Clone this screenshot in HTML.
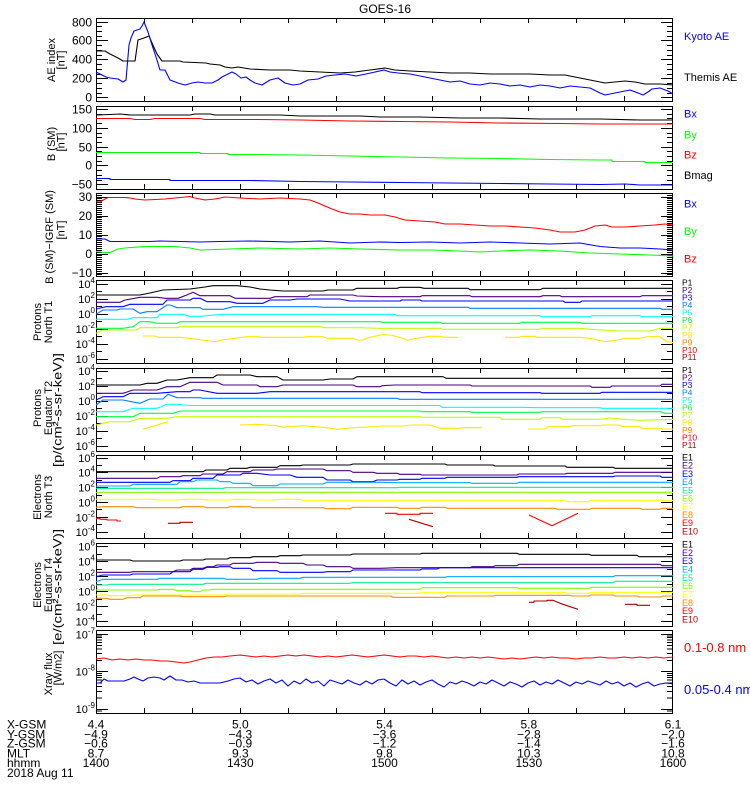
<!DOCTYPE html>
<html><head><meta charset="utf-8"><style>
html,body{margin:0;padding:0;background:#fff}
svg{display:block}
text{font-family:"Liberation Sans",sans-serif;fill:#000}
</style></head><body>
<svg width="750" height="800" viewBox="0 0 750 800" xmlns="http://www.w3.org/2000/svg">
<rect width="750" height="800" fill="#fff"/>
<defs>
<path id="xt" d="M96.5 0v5M144.5 0v5M192.5 0v5M240.5 0v5M288.5 0v5M336.5 0v5M384.5 0v5M432.5 0v5M480.5 0v5M528.5 0v5M576.5 0v5M624.5 0v5M672.5 0v5M96.5 83v-5M144.5 83v-5M192.5 83v-5M240.5 83v-5M288.5 83v-5M336.5 83v-5M384.5 83v-5M432.5 83v-5M480.5 83v-5M528.5 83v-5M576.5 83v-5M624.5 83v-5M672.5 83v-5" stroke="#000" fill="none" shape-rendering="crispEdges"/>
<path id="yt" stroke="#000" fill="none" shape-rendering="crispEdges" d="
M96 97.5h12M96 78.5h12M96 59.5h12M96 40.5h12M96 22.5h12M96 93.5h6M96 88.5h6M96 83.5h6M96 74.5h6M96 69.5h6M96 64.5h6M96 55.5h6M96 50.5h6M96 45.5h6M96 36.5h6M96 31.5h6M96 26.5h6
M96 109.5h12M96 128.5h12M96 147.5h12M96 165.5h12M96 184.5h12M96 180.5h6M96 175.5h6M96 170.5h6M96 161.5h6M96 156.5h6M96 151.5h6M96 142.5h6M96 137.5h6M96 133.5h6M96 123.5h6M96 118.5h6M96 114.5h6
M96 197.5h12M96 216.5h12M96 235.5h12M96 254.5h12M96 273.5h12
M96 195.5h6M96 198.5h6M96 200.5h6M96 202.5h6M96 204.5h6M96 206.5h6M96 208.5h6M96 210.5h6M96 212.5h6M96 214.5h6M96 217.5h6M96 219.5h6M96 221.5h6M96 223.5h6M96 225.5h6M96 227.5h6M96 229.5h6M96 231.5h6M96 233.5h6M96 236.5h6M96 238.5h6M96 240.5h6M96 242.5h6M96 244.5h6M96 246.5h6M96 248.5h6M96 250.5h6M96 252.5h6M96 255.5h6M96 257.5h6M96 259.5h6M96 261.5h6M96 263.5h6M96 265.5h6M96 267.5h6M96 269.5h6M96 271.5h6M96 274.5h6
M96 284.5h12M96 299.5h12M96 314.5h12M96 329.5h12M96 344.5h12M96 359.5h12M96 291.5h6M96 306.5h6M96 321.5h6M96 336.5h6M96 351.5h6
M96 371.5h12M96 386.5h12M96 401.5h12M96 416.5h12M96 431.5h12M96 446.5h12M96 378.5h6M96 393.5h6M96 408.5h6M96 423.5h6M96 438.5h6
M96 458.5h12M96 472.5h12M96 487.5h12M96 502.5h12M96 517.5h12M96 532.5h12M96 465.5h6M96 480.5h6M96 495.5h6M96 509.5h6M96 524.5h6
M96 546.5h12M96 561.5h12M96 576.5h12M96 591.5h12M96 606.5h12M96 621.5h12M96 554.5h6M96 569.5h6M96 584.5h6M96 599.5h6M96 614.5h6
M96 634.5h12M96 671.5h12M96 709.5h12M96 635.8h6M96 637.7h6M96 639.9h6M96 642.4h6M96 645.4h6M96 649h6M96 653.7h6M96 660.4h6M96 673.4h6M96 675.3h6M96 677.5h6M96 680h6M96 683h6M96 686.6h6M96 691.3h6M96 698h6M96 711h6"/>
</defs>

<!-- frames -->
<g fill="none" stroke="#000" shape-rendering="crispEdges">
<rect x="96.5" y="18.5" width="576" height="83"/>
<rect x="96.5" y="106.5" width="576" height="83"/>
<rect x="96.5" y="193.5" width="576" height="83"/>
<rect x="96.5" y="280.5" width="576" height="83"/>
<rect x="96.5" y="368.5" width="576" height="83"/>
<rect x="96.5" y="455.5" width="576" height="83"/>
<rect x="96.5" y="543.5" width="576" height="83"/>
<rect x="96.5" y="630.5" width="576" height="83"/>
</g>
<use href="#xt" y="18"/><use href="#xt" y="106"/><use href="#xt" y="193"/><use href="#xt" y="280"/>
<use href="#xt" y="368"/><use href="#xt" y="455"/><use href="#xt" y="543"/><use href="#xt" y="630"/>
<use href="#yt"/>
<use href="#yt" transform="matrix(-1 0 0 1 769 0)"/>

<!-- title -->
<text x="385" y="13" font-size="12" text-anchor="middle">GOES-16</text>

<!-- y tick labels -->
<g font-size="12" text-anchor="end">
<text x="92" y="101.5">0</text><text x="92" y="82.5">200</text><text x="92" y="63.5">400</text><text x="92" y="44.5">600</text><text x="92" y="26.5">800</text>
<text x="92" y="113.5">150</text><text x="92" y="132.5">100</text><text x="92" y="151.5">50</text><text x="92" y="169.5">0</text><text x="92" y="188.5">−50</text>
<text x="92" y="201">30</text><text x="92" y="220">20</text><text x="92" y="239">10</text><text x="92" y="258">0</text><text x="92" y="277">−10</text>
</g>
<g font-size="11" text-anchor="end">
<text x="95" y="288">10<tspan dy="-5" font-size="8">4</tspan></text>
<text x="95" y="303">10<tspan dy="-5" font-size="8">2</tspan></text>
<text x="95" y="318">10<tspan dy="-5" font-size="8">0</tspan></text>
<text x="95" y="333">10<tspan dy="-5" font-size="8">-2</tspan></text>
<text x="95" y="348">10<tspan dy="-5" font-size="8">-4</tspan></text>
<text x="95" y="363">10<tspan dy="-5" font-size="8">-6</tspan></text>

<text x="95" y="375">10<tspan dy="-5" font-size="8">4</tspan></text>
<text x="95" y="390">10<tspan dy="-5" font-size="8">2</tspan></text>
<text x="95" y="405">10<tspan dy="-5" font-size="8">0</tspan></text>
<text x="95" y="420">10<tspan dy="-5" font-size="8">-2</tspan></text>
<text x="95" y="435">10<tspan dy="-5" font-size="8">-4</tspan></text>
<text x="95" y="450">10<tspan dy="-5" font-size="8">-6</tspan></text>

<text x="95" y="462">10<tspan dy="-5" font-size="8">6</tspan></text>
<text x="95" y="476.5">10<tspan dy="-5" font-size="8">4</tspan></text>
<text x="95" y="491.5">10<tspan dy="-5" font-size="8">2</tspan></text>
<text x="95" y="506.5">10<tspan dy="-5" font-size="8">0</tspan></text>
<text x="95" y="521.5">10<tspan dy="-5" font-size="8">-2</tspan></text>
<text x="95" y="536">10<tspan dy="-5" font-size="8">-4</tspan></text>

<text x="95" y="550.5">10<tspan dy="-5" font-size="8">6</tspan></text>
<text x="95" y="565.5">10<tspan dy="-5" font-size="8">4</tspan></text>
<text x="95" y="580.5">10<tspan dy="-5" font-size="8">2</tspan></text>
<text x="95" y="595.5">10<tspan dy="-5" font-size="8">0</tspan></text>
<text x="95" y="610.5">10<tspan dy="-5" font-size="8">-2</tspan></text>
<text x="95" y="625.5">10<tspan dy="-5" font-size="8">-4</tspan></text>

<text x="95" y="638.5">10<tspan dy="-5" font-size="8">-7</tspan></text>
<text x="95" y="675.5">10<tspan dy="-5" font-size="8">-8</tspan></text>
<text x="95" y="713">10<tspan dy="-5" font-size="8">-9</tspan></text>
</g>

<!-- y axis titles -->
<g font-size="11" text-anchor="middle">
<text transform="translate(55,60) rotate(-90)">AE index</text>
<text transform="translate(64.5,60) rotate(-90)">[nT]</text>
<text transform="translate(55,144) rotate(-90)">B (SM)</text>
<text transform="translate(64.5,142) rotate(-90)">[nT]</text>
<text transform="translate(53,237) rotate(-90)">B (SM)−IGRF (SM)</text>
<text transform="translate(64.5,230) rotate(-90)">[nT]</text>
<text transform="translate(41,322) rotate(-90)">Protons</text>
<text transform="translate(52,322) rotate(-90)">North T1</text>
<text transform="translate(41,408) rotate(-90)">Protons</text>
<text transform="translate(52,408) rotate(-90)">Equator T2</text>
<text transform="translate(61.5,410) rotate(-90)" font-size="12" textLength="114" lengthAdjust="spacingAndGlyphs">[p/(cm²-s-sr-keV)]</text>
<text transform="translate(41,497) rotate(-90)">Electrons</text>
<text transform="translate(52,497) rotate(-90)">North T3</text>
<text transform="translate(41,585) rotate(-90)">Electrons</text>
<text transform="translate(52,585) rotate(-90)">Equator T4</text>
<text transform="translate(61.5,587) rotate(-90)" font-size="12" textLength="116" lengthAdjust="spacingAndGlyphs">[e/(cm²-s-sr-keV)]</text>
<text transform="translate(52,674) rotate(-90)">Xray flux</text>
<text transform="translate(61.5,668) rotate(-90)">[W/m2]</text>
</g>

<!-- right legends -->
<g font-size="11">
<text x="684" y="40" style="fill:#0000ff">Kyoto AE</text>
<text x="684" y="81">Themis AE</text>
<text x="684" y="117.5" style="fill:#0000ff">Bx</text>
<text x="684" y="138.5" style="fill:#00ff00">By</text>
<text x="684" y="158.5" style="fill:#ff0000">Bz</text>
<text x="684" y="179">Bmag</text>
<text x="684" y="207.5" style="fill:#0000ff">Bx</text>
<text x="684" y="235" style="fill:#00ff00">By</text>
<text x="684" y="262.5" style="fill:#ff0000">Bz</text>
<text x="684" y="652" font-size="13" style="fill:#ff0000">0.1-0.8 nm</text>
<text x="684" y="694" font-size="13" style="fill:#0000ff">0.05-0.4 nm</text>
</g>
<g font-size="8.5">
<text x="682" y="285.7">P1</text>
<text x="682" y="293.2" style="fill:#4b0082">P2</text>
<text x="682" y="300.6" style="fill:#0000ff">P3</text>
<text x="682" y="308.1" style="fill:#0080ff">P4</text>
<text x="682" y="315.5" style="fill:#00ffff">P5</text>
<text x="682" y="323" style="fill:#00ff40">P6</text>
<text x="682" y="330.4" style="fill:#c0ff00">P7</text>
<text x="682" y="337.9" style="fill:#ffe800">P8</text>
<text x="682" y="345.3" style="fill:#ff8000">P9</text>
<text x="682" y="352.8" style="fill:#ff0000">P10</text>
<text x="682" y="360.2" style="fill:#b00000">P11</text>

<text x="682" y="373">P1</text>
<text x="682" y="380.5" style="fill:#4b0082">P2</text>
<text x="682" y="388" style="fill:#0000ff">P3</text>
<text x="682" y="395.5" style="fill:#0080ff">P4</text>
<text x="682" y="403" style="fill:#00ffff">P5</text>
<text x="682" y="410.5" style="fill:#00ff40">P6</text>
<text x="682" y="418" style="fill:#c0ff00">P7</text>
<text x="682" y="425.5" style="fill:#ffe800">P8</text>
<text x="682" y="433" style="fill:#ff8000">P9</text>
<text x="682" y="440.5" style="fill:#ff0000">P10</text>
<text x="682" y="448" style="fill:#b00000">P11</text>
</g>
<g font-size="9">
<text x="682" y="460.5">E1</text>
<text x="682" y="468.7" style="fill:#4b0082">E2</text>
<text x="682" y="476.9" style="fill:#0000ff">E3</text>
<text x="682" y="485.1" style="fill:#00a8ff">E4</text>
<text x="682" y="493.3" style="fill:#00f090">E5</text>
<text x="682" y="501.5" style="fill:#80ff00">E6</text>
<text x="682" y="509.7" style="fill:#ffff00">E7</text>
<text x="682" y="517.9" style="fill:#ff8c00">E8</text>
<text x="682" y="526.1" style="fill:#ff0000">E9</text>
<text x="682" y="534.3" style="fill:#b00000">E10</text>

<text x="682" y="547.5">E1</text>
<text x="682" y="555.8" style="fill:#4b0082">E2</text>
<text x="682" y="564.2" style="fill:#0000ff">E3</text>
<text x="682" y="572.5" style="fill:#00a8ff">E4</text>
<text x="682" y="580.8" style="fill:#00f090">E5</text>
<text x="682" y="589.2" style="fill:#80ff00">E6</text>
<text x="682" y="597.5" style="fill:#ffff00">E7</text>
<text x="682" y="605.8" style="fill:#ff8c00">E8</text>
<text x="682" y="614.2" style="fill:#ff0000">E9</text>
<text x="682" y="622.5" style="fill:#b00000">E10</text>
</g>

<!-- bottom labels -->
<g font-size="12">
<text x="7" y="728.6">X-GSM</text>
<text x="7" y="738.6">Y-GSM</text>
<text x="7" y="747.6">Z-GSM</text>
<text x="7" y="757.6">MLT</text>
<text x="7" y="767">hhmm</text>
<text x="7" y="777">2018 Aug 11</text>
</g>
<g font-size="12" text-anchor="middle">
<text x="96" y="728.6">4.4</text><text x="96" y="738.6">−4.9</text><text x="96" y="747.6">−0.6</text><text x="96" y="757.6">8.7</text><text x="96" y="767">1400</text>
<text x="240.3" y="728.6">5.0</text><text x="240.3" y="738.6">−4.3</text><text x="240.3" y="747.6">−0.9</text><text x="240.3" y="757.6">9.3</text><text x="240.3" y="767">1430</text>
<text x="384.5" y="728.6">5.4</text><text x="384.5" y="738.6">−3.6</text><text x="384.5" y="747.6">−1.2</text><text x="384.5" y="757.6">9.8</text><text x="384.5" y="767">1500</text>
<text x="528.8" y="728.6">5.8</text><text x="528.8" y="738.6">−2.8</text><text x="528.8" y="747.6">−1.4</text><text x="528.8" y="757.6">10.3</text><text x="528.8" y="767">1530</text>
<text x="673" y="728.6">6.1</text><text x="673" y="738.6">−2.0</text><text x="673" y="747.6">−1.6</text><text x="673" y="757.6">10.8</text><text x="673" y="767">1600</text>
</g>

<!-- data -->
<g fill="none" stroke-width="1.1" stroke-linejoin="round">
<!-- AE -->
<polyline stroke="#000" points="96,51 105,51 110,54 118,58 123,61 135,61 138,40 144,38 149,36 152,43 157,54 162,61 180,61 183,62 206,63 210,64 220,65 225,67 232,68 238,67 250,69 270,70 290,70 300,71 320,72 340,73 355,72 370,70 385,68 395,70 410,71 430,72 450,73 470,73 490,74 510,74 530,74 550,75 565,75 575,77 585,79 595,81 605,83 615,82 625,81 635,82 645,84 660,84 673,85"/>
<polyline stroke="#0000ff" points="96,72 100,74 106,77 110,78 118,79 123,82 126,80 129,45 131,38 134,31 140,29 142,26 144,22 148,32 152,45 157,60 160,70 165,70 170,80 178,83 185,85 192,83 198,82 205,83 212,83 218,80 222,77 226,75 232,72 236,74 241,78 246,77 250,80 255,83 262,85 270,80 278,78 285,83 293,85 300,84 308,80 318,79 326,76 335,75 345,74 356,76 366,74 375,72 384,70 390,72 398,73 410,74 420,76 430,78 440,80 450,82 460,81 470,84 480,85 490,83 500,84 510,86 520,85 530,87 540,85 550,86 560,88 570,86 580,87 590,88 600,93 605,95 610,94 615,93 625,91 630,90 638,93 643,95 648,92 652,89 660,88 668,91 673,94"/>
<!-- B SM -->
<polyline stroke="#000" points="96,115 110,114.5 120,114 130,115 190,115 195,114 210,114 215,115 280,115 300,116 360,116 380,117 420,117 460,118 500,118 540,119 600,119 640,120 673,120"/>
<polyline stroke="#ff0000" points="96,118.5 130,118.5 135,119.5 150,119.5 155,118.5 200,118.5 205,119.5 260,119.5 300,120 350,121 400,121.5 450,122 500,123 560,123.5 600,124 673,124"/>
<polyline stroke="#00ff00" points="96,152.5 200,152.5 200,153.5 228,153.5 228,154.5 260,154.5 300,155 350,156 400,157 450,158 500,158.5 550,159.5 600,160 612,160 612,161.5 645,161.5 645,162.5 673,162.5"/>
<polyline stroke="#0000ff" points="96,178.5 110,178.5 110,179.5 170,179.5 170,180.5 250,180.5 300,181.5 350,182 400,182.5 450,183 500,183.5 550,184 600,184.5 625,184 640,185 673,185"/>
<!-- B-IGRF -->
<polyline stroke="#ff0000" points="96,201.5 100,202 105,199 108,197.5 125,197.5 130,198 135,199 145,200 165,199 175,198 190,196.5 195,198 205,200 215,199 225,197 240,198 260,199 280,198 300,199 310,200 318,203 325,206 332,209 340,212 350,214 360,214 370,215 385,215 395,217 405,220 420,221 435,222 445,224 460,224 475,225 490,226 505,226 520,227 535,228 550,230 560,232 575,232 585,230 595,226 605,225 612,227 625,227 640,226 655,225 665,224 673,225"/>
<polyline stroke="#0000ff" points="96,239 105,239 110,241.5 150,241.5 160,241 180,241.5 200,242 220,241.5 250,241 290,242 320,241 350,243 380,242 400,242.5 430,242 460,243 490,242 520,243 550,244 580,243 600,246.5 620,248 640,248 660,249 673,250"/>
<polyline stroke="#00ff00" points="96,251.5 105,252.5 110,252.5 118,249 125,248 145,246.5 175,246.5 190,248 200,250 230,249 260,248 300,249 330,248 360,249 400,250 430,250 460,251 480,252 500,251 530,250 560,251 590,253 620,254 650,255 673,256"/>
<!-- Protons T1 -->
<polyline stroke="#000" points="96,295 140,295 150,293 163,290 190,289 205,287 213,285.7 237,285.7 250,287 260,289 270,290 283,291 323,291 328,290 353,290 357,288.3 397,288.3 400,287.3 420,287.3 424,288.3 468,288.3 470,289.7 540,289.7 543,288.3 673,288.3"/>
<polyline stroke="#4b0082" points="96,302.3 120,302.3 125,300 140,297.3 157,297.3 165,298.3 178,298.3 185,295.7 193,292.3 200,295.7 230,295.7 235,298.3 270,298.3 275,296.7 307,296.7 310,295 353,295 357,296 380,296.7 420,296.7 422,295.7 470,295.7 472,296.7 540,296.7 543,295.7 560,295.7 562,296.7 640,296.7 642,295.7 673,295.7"/>
<polyline stroke="#0000ff" points="96,309 106,306.7 123,306.7 130,304.3 163,304.3 167,300 190,300 193,298.3 200,298.3 207,301.7 230,301.7 237,303.3 263,303.3 270,300 290,300 297,299 340,299 350,301 400,301 402,300 420,300 422,301 563,301 565,302.3 580,302.3 582,301 673,301"/>
<polyline stroke="#0080ff" points="96,314.3 103,310 117,310 120,309 133,309 140,313.3 147,311.7 157,311.7 167,305 170,305 177,307.7 200,307.7 203,309.3 223,309.3 233,306.7 317,306.7 323,307.3 468,307.3 470,308.3 660,308.3 662,309.3 673,309.3"/>
<polyline stroke="#00ffff" points="96,319.3 127,319.3 133,317.7 157,317.7 160,314.3 183,314.3 190,316.3 200,316.3 223,314.3 395,314.3 397,315.7 540,315.7 542,316.7 590,316.7 592,315.7 640,315.7 642,316.7 673,316.7"/>
<polyline stroke="#00ff40" points="96,328.3 123,328.3 133,326.7 140,321.7 150,321.7 157,323.3 177,323.3 180,321.7 380,321.7 382,322.3 440,322.3 442,323.3 520,323.3 522,322.3 580,322.3 582,323.3 673,323.3"/>
<polyline stroke="#c0ff00" points="96,333.3 103,330 137,330 140,327.7 177,327.7 180,326.7 320,326.7 325,327.7 360,327.7 380,328.3 440,328.3 442,329.3 540,329.3 542,328.3 580,328.3 590,329.3 620,331 650,331 660,328.3 673,328.3"/>
<polyline stroke="#ffe800" points="143,336 155,336 158,337.3 180,337.3 190,338.3 205,340.5 215,341.7 225,339.5 235,338.3 247,336.7 257,336.7 263,337.3 303,337.3 307,336.7 323,336.7 327,338.3 353,338.3 357,340 363,340 367,338 373,336.7 383,334.5 390,335 397,336.5 403,338.3 408,340.3 412,339 420,337.7 430,336.3 440,336.3 445,337.3 458,337.3"/>
<polyline stroke="#ffe800" points="505,337.3 520,337.3 522,336.3 535,336.3 537,337.3 580,337.3 590,338.3 600,340.7 605,341.7 613,340.7 620,339.5 625,338.3 640,338.3 648,336.7 660,336.7 665,340.7 673,342.7"/>
<!-- Protons T2 -->
<polyline stroke="#000" points="96,385 140,385 147,383.3 157,383.3 167,380 177,380 190,377.7 213,377.7 217,375 250,375 257,376.7 277,376.7 283,380 323,380 330,379 353,379 357,376.7 443,376.7 446,378.3 673,378.3"/>
<polyline stroke="#4b0082" points="96,393.3 123,393.3 133,390 157,390 167,386.7 180,386.7 190,382.3 217,382.3 223,385 257,385 260,386.7 277,386.7 283,385 353,385 357,386.7 380,386.7 382,385.7 395,385 470,385 472,386 590,386 592,387.3 610,387.3 612,386 660,386 662,384.3 673,384.3"/>
<polyline stroke="#0000ff" points="96,400 103,396.7 123,396.7 130,393.3 157,393.3 177,391.7 190,391.7 193,390 200,390 217,393.3 257,393.3 270,391.7 420,391.7 422,392.7 540,392.7 542,393.3 600,393.3 602,392.3 673,392.3"/>
<polyline stroke="#0080ff" points="96,405 103,400 123,400 140,403.3 150,399 163,399 168,394.3 177,397.7 200,397.7 203,398.3 397,398.3 400,399.3 673,399.3"/>
<polyline stroke="#00ffff" points="96,411.7 123,411.7 133,408.3 157,408.3 167,404.3 177,404.3 190,405.5 440,405.5 442,407.3 520,407.3 540,407.7 600,407.7 602,408.3 673,408.3"/>
<polyline stroke="#00ff40" points="96,416.7 133,416.7 140,413.3 173,413.3 180,411 420,411 422,411.7 470,411.7 472,412.3 540,412.3 542,411.7 660,411.7 665,413.3 673,413.3"/>
<polyline stroke="#c0ff00" points="96,425 110,421.7 130,421.7 140,418.3 167,418.3 177,416.7 420,416.7 422,417.3 500,417.3 502,419.3 540,419.3 542,417.7 560,417.7 562,419.3 600,419.3 610,418 625,419.3 640,420.3 673,419.3"/>
<polyline stroke="#ffe800" points="143,429.3 168,421.7"/>
<polyline stroke="#ffe800" points="240,425 257,424.3 277,425.7 283,427.3 303,425.7 323,427.3 337,429.3 353,427.7 373,426.7 380,426 405,426 410,425 430,425 440,428.3 460,428.3 462,427.7 482,427.7"/>
<polyline stroke="#ffe800" points="528,429 545,429 548,426.7 570,426.7 572,425.7 600,425.7 602,425 620,425 622,426.7 640,426.7 642,428.3 660,428.3 662,429 673,429"/>
<!-- Electrons T3 -->
<polyline stroke="#000" points="96,471.7 203,471.7 206,470 227,470 230,468.3 247,468.3 250,467.3 277,467.3 280,465.7 300,465.7 303,465 350,465 353,464 445,464 447,465 493,465 495,466 565,466 567,467.3 613,467.3 615,468.3 673,468.3"/>
<polyline stroke="#4b0082" points="96,478.3 157,478.3 160,476.7 180,476.7 183,475.7 200,475.7 203,474 223,474 227,471.7 250,471.7 253,470 273,470 277,469 323,469 327,470.7 350,470.7 353,472.3 373,472.3 377,473.3 397,473.3 400,474.3 420,474.3 422,475 517,475 519,474 565,474 567,473.3 613,473.3 615,472.3 673,472.3"/>
<polyline stroke="#0000ff" points="96,482.3 170,482.3 173,480.7 190,480.7 193,478.3 213,478.3 217,475 240,475 243,473.3 257,473.3 270,475 290,475 297,477.3 323,477.3 327,480 350,480 353,481.7 373,481.7 377,480 397,480 400,479.3 420,479.3 422,478.3 445,478.3 447,477.3 517,477.3 519,476.7 613,476.7 615,476 660,476 662,477.3 673,477.3"/>
<polyline stroke="#00a8ff" points="96,486 130,486 133,484.3 177,484.3 180,481.7 193,481.7 197,480 217,480 220,481.7 230,481.7 233,483.3 250,483.3 253,485.7 277,485.7 280,484 323,484 327,482.3 380,482.3 397,482.7 470,482.7 472,483.3 517,483.3 519,482.3 673,482.3"/>
<polyline stroke="#00f090" points="96,488.3 223,488.3 226,487.7 397,487.7 399,487.3 673,487.3"/>
<polyline stroke="#80ff00" points="96,492.3 673,492.3"/>
<polyline stroke="#ffff00" points="96,499.3 155,499.3 157,500 180,500 183,499.3 203,499.3 205,500 230,500 233,499.3 253,499.3 256,500 275,500 278,499.3 300,499.3 303,500.3 565,500.3 567,501.7 589,501.7 591,500.3 673,500.3"/>
<polyline stroke="#ff8c00" points="96,507.3 103,506.7 133,506.7 137,507.7 180,507.7 183,506.7 203,506.7 207,507.7 227,507.7 230,506.7 250,506.7 253,507.7 323,507.7 327,508.7 350,508.7 353,507.3 397,507.3 399,508.3 420,508.3 422,507.3 445,507.3 447,508.3 555,508.3 557,509.3 590,509.3 592,508.3 640,508.3 642,509.3 660,509.3 662,508.3 673,508.3"/>
<polyline stroke="#ff0000" points="96,518.3 100,518.3 100,519.3 107,519.3 107,520 117,520 117,521 121,521"/>
<polyline stroke="#ff0000" points="385,513.3 397,513.3 397,514.3 420,514.3 420,513.3 433,513.3"/>
<polyline stroke="#ff0000" points="529,515 552,525.7 578,513.3"/>
<polyline stroke="#b00000" points="168,523.3 180,523.3 180,522.3 193,522.3"/>
<polyline stroke="#b00000" points="409,519.3 433,526.7"/>
<!-- Electrons T4 -->
<polyline stroke="#000" points="96,560 130,560 133,561 180,561 183,560 203,560 206,559 227,559 230,557.7 250,557.7 253,556.7 277,556.7 280,555.7 300,555.7 303,555 350,555 353,554 420,554 422,553.3 517,553.3 519,554.3 589,554.3 591,555.3 637,555.3 639,556.7 673,556.7"/>
<polyline stroke="#4b0082" points="96,572.3 130,572.3 133,571.7 173,571.7 177,570 190,570 193,568.3 203,568.3 207,566.7 213,566.7 217,565 230,565 233,563.3 253,563.3 257,562.3 277,562.3 280,563.3 303,563.3 307,565 323,565 327,566.7 350,566.7 353,568.3 380,568.3 397,567.7 470,567.7 472,566.7 493,566.7 495,565.7 517,565.7 519,564.3 660,564.3 662,565.7 673,565.7"/>
<polyline stroke="#0000ff" points="96,576.7 103,575 130,575 133,574 170,574 173,571.7 190,571.7 193,569.3 203,569.3 207,567.3 217,567.3 220,566.7 230,566.7 233,568.3 250,568.3 253,570.7 277,570.7 280,572.3 323,572.3 327,571.7 350,571.7 353,570 420,570 422,569 437,569 440,567.7 673,567.7"/>
<polyline stroke="#00a8ff" points="96,581.7 103,579.3 157,579.3 160,578.3 223,578.3 227,579.3 257,579.3 260,578.3 300,578.3 303,577.3 445,577.3 447,576.7 613,576.7 615,575.7 673,575.7"/>
<polyline stroke="#00f090" points="96,585 107,585 110,584.3 203,584.3 206,583.3 350,583.3 353,582.7 613,582.7 615,581.3 673,581.3"/>
<polyline stroke="#80ff00" points="96,590 157,590 160,589.3 173,589.3 177,590.7 190,590.7 193,591.7 200,591.7 203,590 210,590 213,589.3 420,589.3 422,587.7 517,587.7 519,588.3 589,588.3 591,587.3 673,587.3"/>
<polyline stroke="#ffff00" points="96,595 107,595 110,595.7 130,595.7 133,595 223,595 227,594 300,594 303,593.3 420,593.3 422,592.3 565,592.3 567,593.3 589,593.3 591,592.3 673,592.3"/>
<polyline stroke="#ff8c00" points="96,598.3 107,598.3 110,599.3 123,599.3 127,597.7 140,597.7 143,596 180,596 183,596.7 223,596.7 227,596 391,596 393,597.3 445,597.3 447,596 493,596 495,595.3 570,595.3 572,596 589,596 591,595 613,595 615,596 637,596 639,597 661,597 663,596 673,596"/>
<polyline stroke="#b00000" points="529,602.3 534,602.3 534,601 547,601 547,600.3 553,600.3 560,603.3 578,609.3"/>
<polyline stroke="#b00000" points="625,604.3 637,604.3 637,605.3 650,605.3"/>
<!-- Xray -->
<polyline stroke="#ff0000" points="96,659 104,658 112,660 120,659 128,660 136,659 144,660 152,660 160,661 168,661 176,662 184,663 190,662 198,660 206,658 214,657 222,657 230,656 240,655 248,656 256,657 264,656 272,657 280,656 288,655 296,656 304,655 312,656 320,657 328,656 336,657 344,656 352,655 360,656 368,657 376,656 384,655 392,656 400,657 408,656 416,656 424,657 432,656 440,657 448,658 456,657 464,658 472,657 480,658 488,657 496,658 504,659 512,658 520,659 528,658 536,657 544,658 552,657 560,658 568,658 576,659 584,658 592,658 600,657 608,658 616,658 624,657 632,658 640,657 648,658 656,657 664,658 673,657"/>
<polyline stroke="#0000ff" points="96,683 100,683 104,679 108,681 116,681 124,681 130,679 134,677 138,679 143,681 148,678 154,677 160,678 164,680 170,676 176,680 182,680 188,682 194,681 200,683 210,683 220,683 228,681 234,679 240,678 246,682 252,680 258,684 264,681 270,679 276,683 282,680 288,686 294,681 300,684 306,679 312,683 318,681 324,686 330,680 336,682 342,684 348,680 354,683 360,685 366,681 372,684 378,680 384,679 390,683 396,686 402,680 408,684 414,681 420,685 426,682 432,680 438,684 444,687 450,682 456,684 462,681 468,683 474,686 480,682 486,684 492,680 498,683 504,686 510,682 516,684 522,687 528,683 534,681 540,685 546,682 552,684 558,680 564,683 570,686 576,682 582,684 588,681 594,683 600,685 606,681 612,684 618,682 624,686 630,683 636,687 642,684 648,682 654,686 660,684 666,683 673,684"/>
</g>
</svg>
</body></html>
